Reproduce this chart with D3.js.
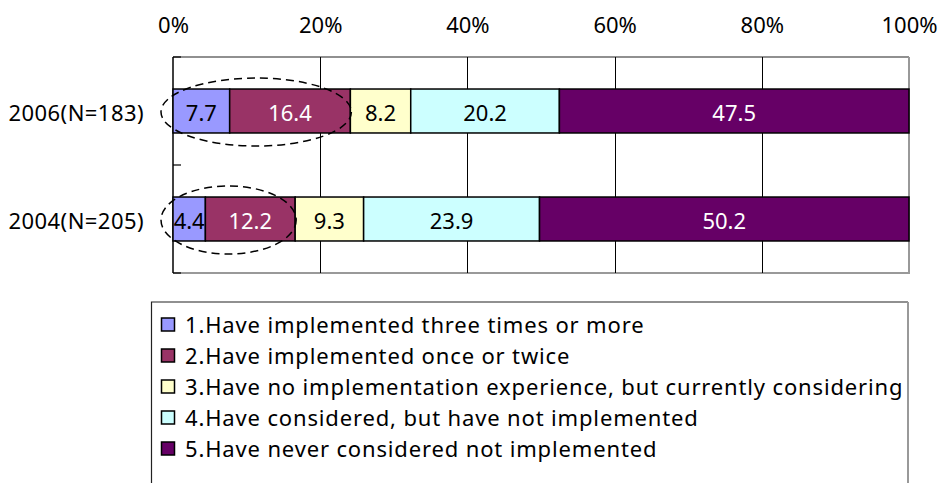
<!DOCTYPE html>
<html>
<head>
<meta charset="utf-8">
<script src="https://cdn.jsdelivr.net/npm/d3@7"></script>
<style>
  html, body { margin: 0; padding: 0; background: #fff; }
  svg { display: block; }
  text { font-family: "Noto Sans", "DejaVu Sans", sans-serif; }
</style>
</head>
<body>
<svg id="chart" width="941" height="483"></svg>
<script>
// Survey responses by year (percent of respondents)
const categories = ["2006(N=183)", "2004(N=205)"];
const seriesNames = [
  "1.Have implemented three times or more",
  "2.Have implemented once or twice",
  "3.Have no implementation experience, but currently considering",
  "4.Have considered, but have not implemented",
  "5.Have never considered not implemented"
];
const values2006 = [7.7, 16.4, 8.2, 20.2, 47.5];
const values2004 = [4.4, 12.2, 9.3, 23.9, 50.2];
const seriesColors = ["#9999FF", "#993366", "#FFFFCC", "#CCFFFF", "#660066"];
const labelColors = ["#000000", "#ffffff", "#000000", "#000000", "#ffffff"];
const tickValues = [0, 20, 40, 60, 80, 100];
// number of leading segments grouped by the dashed outline
const highlightCount = 2;

const rows = [values2006, values2004].map((vals, i) => {
  let acc = 0;
  return {
    category: categories[i],
    segments: vals.map((v, j) => {
      const s = { value: v, start: acc, end: acc + v, idx: j };
      acc += v;
      return s;
    })
  };
});

const svg = d3.select("#chart");
const fontSize = 22;
const fontFamily = '"Noto Sans", "DejaVu Sans", sans-serif';
// offset from vertical centre to baseline for digits / capitals
const mid = 0.36 * fontSize;

const plot = { left: 173, right: 909, top: 57, bottom: 273 };

const x = d3.scaleLinear().domain([0, 100]).range([plot.left, plot.right]);
const y = d3.scaleBand()
  .domain(categories)
  .range([plot.top, plot.bottom])
  .paddingInner(0.593)
  .paddingOuter(0.2965);

// plot area frame
svg.append("rect")
  .attr("x", plot.left).attr("y", plot.top)
  .attr("width", plot.right - plot.left).attr("height", plot.bottom - plot.top)
  .attr("fill", "#fff").attr("stroke", "none");
svg.append("line")
  .attr("x1", plot.left).attr("x2", plot.right)
  .attr("y1", plot.top).attr("y2", plot.top)
  .attr("stroke", "#222").attr("stroke-width", 1.2);
svg.append("line")
  .attr("x1", plot.right).attr("x2", plot.right)
  .attr("y1", plot.top).attr("y2", plot.bottom)
  .attr("stroke", "#999").attr("stroke-width", 2);
svg.append("line")
  .attr("x1", plot.left).attr("x2", plot.right + 1)
  .attr("y1", plot.bottom).attr("y2", plot.bottom)
  .attr("stroke", "#999").attr("stroke-width", 2);

// vertical gridlines
svg.append("g")
  .selectAll("line")
  .data(tickValues.filter(t => t > 0 && t < 100))
  .join("line")
  .attr("x1", d => Math.round(x(d)) + 0.5).attr("x2", d => Math.round(x(d)) + 0.5)
  .attr("y1", plot.top).attr("y2", plot.bottom)
  .attr("stroke", "#000").attr("stroke-width", 1);

// top percentage axis
const xAxis = d3.axisTop(x)
  .tickValues(tickValues)
  .tickFormat(d => d + "%")
  .tickSize(0)
  .tickPadding(0);
const gx = svg.append("g")
  .attr("transform", `translate(0,${plot.top})`)
  .call(xAxis);
gx.select(".domain").remove();
gx.selectAll("text")
  .attr("y", 32.5 - plot.top)
  .attr("dy", null)
  .attr("fill", "#000")
  .style("font-size", fontSize + "px")
  .style("font-family", fontFamily);

// left category axis line with inward ticks at band boundaries
svg.append("line")
  .attr("x1", plot.left).attr("x2", plot.left)
  .attr("y1", plot.top).attr("y2", plot.bottom)
  .attr("stroke", "#000").attr("stroke-width", 1.5);
const boundaries = [plot.top, ...categories.map(c => y(c) + y.bandwidth() + y.step() * y.paddingInner() / 2)];
svg.append("g")
  .selectAll("line")
  .data(boundaries)
  .join("line")
  .attr("x1", plot.left).attr("x2", plot.left + 8)
  .attr("y1", d => d).attr("y2", d => d)
  .attr("stroke", "#000").attr("stroke-width", 1.2);

// category labels
svg.append("g")
  .selectAll("text")
  .data(categories)
  .join("text")
  .attr("x", 144)
  .attr("y", d => y(d) + y.bandwidth() / 2 + 2 + mid)
  .attr("text-anchor", "end")
  .attr("fill", "#000")
  .style("font-size", fontSize + "px")
  .style("letter-spacing", "0.45px")
  .text(d => d);

// stacked bars
const rowG = svg.append("g")
  .selectAll("g")
  .data(rows)
  .join("g");

rowG.selectAll("rect")
  .data(d => d.segments.map(s => ({ ...s, category: d.category })))
  .join("rect")
  .attr("x", d => x(d.start))
  .attr("y", d => y(d.category))
  .attr("width", d => x(d.end) - x(d.start))
  .attr("height", y.bandwidth())
  .attr("fill", d => seriesColors[d.idx])
  .attr("stroke", "#000")
  .attr("stroke-width", 1.5);

rowG.selectAll("text")
  .data(d => d.segments.map(s => ({ ...s, category: d.category })))
  .join("text")
  .attr("x", d => (x(d.start) + x(d.end)) / 2)
  .attr("y", d => y(d.category) + y.bandwidth() / 2 + 2 + mid)
  .attr("text-anchor", "middle")
  .attr("fill", d => labelColors[d.idx])
  .style("font-size", fontSize + "px")
  .text(d => d.value.toFixed(1));

// dashed outline around the "have implemented" segments
svg.append("g")
  .selectAll("ellipse")
  .data(rows)
  .join("ellipse")
  .attr("cx", d => (x(0) - 12 + x(d.segments[highlightCount - 1].end) + 1) / 2)
  .attr("cy", d => y(d.category) + y.bandwidth() / 2 + 1)
  .attr("rx", d => (x(d.segments[highlightCount - 1].end) + 13 - x(0)) / 2)
  .attr("ry", 34)
  .attr("fill", "none")
  .attr("stroke", "#000")
  .attr("stroke-width", 1.5)
  .attr("stroke-dasharray", "8,5");

// legend
const legend = { left: 151.5, top: 302, right: 908, rowStart: 325, rowStep: 31 };
svg.append("path")
  .attr("d", `M${legend.left},490V${legend.top}H${legend.right}`)
  .attr("fill", "none").attr("stroke", "#222").attr("stroke-width", 1.2);
svg.append("line")
  .attr("x1", legend.right).attr("x2", legend.right)
  .attr("y1", legend.top).attr("y2", 490)
  .attr("stroke", "#999").attr("stroke-width", 2);

const legendItems = svg.append("g")
  .selectAll("g")
  .data(seriesNames)
  .join("g")
  .attr("transform", (d, i) => `translate(0,${legend.rowStart + i * legend.rowStep})`);
legendItems.append("rect")
  .attr("x", 161.5).attr("y", -7)
  .attr("width", 13).attr("height", 13)
  .attr("fill", (d, i) => seriesColors[i])
  .attr("stroke", "#000").attr("stroke-width", 1.5);
legendItems.append("text")
  .attr("x", 185)
  .attr("y", mid)
  .attr("fill", "#000")
  .style("font-size", fontSize + "px")
  .style("letter-spacing", "0.85px")
  .text(d => d);
</script>
</body>
</html>
